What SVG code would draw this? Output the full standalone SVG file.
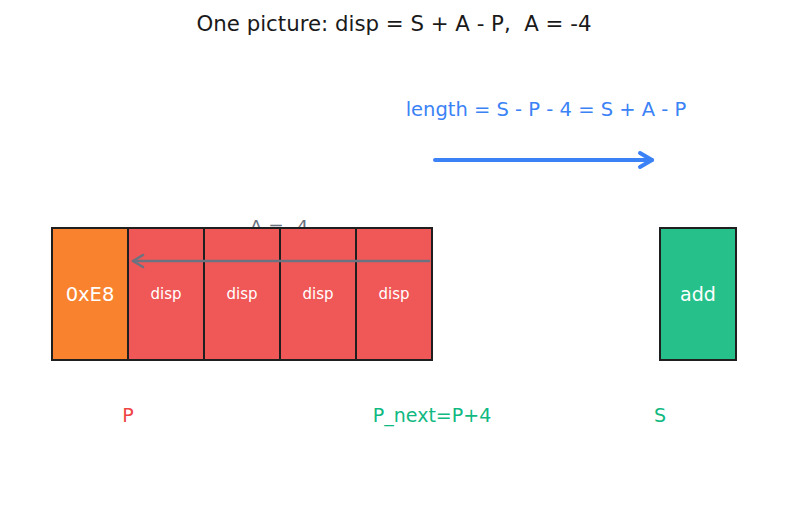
<svg xmlns="http://www.w3.org/2000/svg" width="787" height="508" viewBox="0 0 787 508">
<style>
text{font-family:"DejaVu Sans",sans-serif;white-space:pre;}
.box{stroke:#1f1f1f;stroke-width:2;}
.w{fill:#ffffff;text-anchor:middle;}
.lbl{font-size:19px;text-anchor:middle;}
</style>
<rect width="787" height="508" fill="#ffffff"/>
<text x="394" y="31" font-size="21.3" fill="#1a1a1a" text-anchor="middle" xml:space="preserve">One picture: disp = S + A - P,  A = -4</text>
<text x="546" y="116" font-size="19.5" fill="#3b82f6" text-anchor="middle">length = S - P - 4 = S + A - P</text>
<text x="279" y="233" font-size="18.5" fill="#6b7280" text-anchor="middle">A = -4</text>
<g id="opcode"><rect class="box" x="52" y="228" width="76" height="132" fill="#f9822e"/><text class="w" x="90" y="301" font-size="19.5">0xE8</text></g>
<g id="disp1"><rect class="box" x="128" y="228" width="76" height="132" fill="#f05757"/><text class="w" x="166" y="299" font-size="15">disp</text></g>
<g id="disp2"><rect class="box" x="204" y="228" width="76" height="132" fill="#f05757"/><text class="w" x="242" y="299" font-size="15">disp</text></g>
<g id="disp3"><rect class="box" x="280" y="228" width="76" height="132" fill="#f05757"/><text class="w" x="318" y="299" font-size="15">disp</text></g>
<g id="disp4"><rect class="box" x="356" y="228" width="76" height="132" fill="#f05757"/><text class="w" x="394" y="299" font-size="15">disp</text></g>
<g id="add"><rect class="box" x="660" y="228" width="76" height="132" fill="#26c18b"/><text class="w" x="698" y="301" font-size="19">add</text></g>
<g id="connectors" fill="none" stroke-linecap="round" stroke-linejoin="round">
<line x1="429" y1="261" x2="133" y2="261" stroke="#6b7280" stroke-width="2.5"/>
<polyline points="143,255 133,261 143,267" stroke="#6b7280" stroke-width="2.5"/>
<line x1="435" y1="160" x2="652" y2="160" stroke="#3b82f6" stroke-width="4"/>
<polyline points="640,153 652,160 640,167" stroke="#3b82f6" stroke-width="4"/>
</g>
<text class="lbl" x="128" y="422" fill="#ef4444">P</text>
<text class="lbl" x="432" y="422" fill="#10b981">P_next=P+4</text>
<text class="lbl" x="660" y="422" fill="#10b981">S</text>
</svg>
